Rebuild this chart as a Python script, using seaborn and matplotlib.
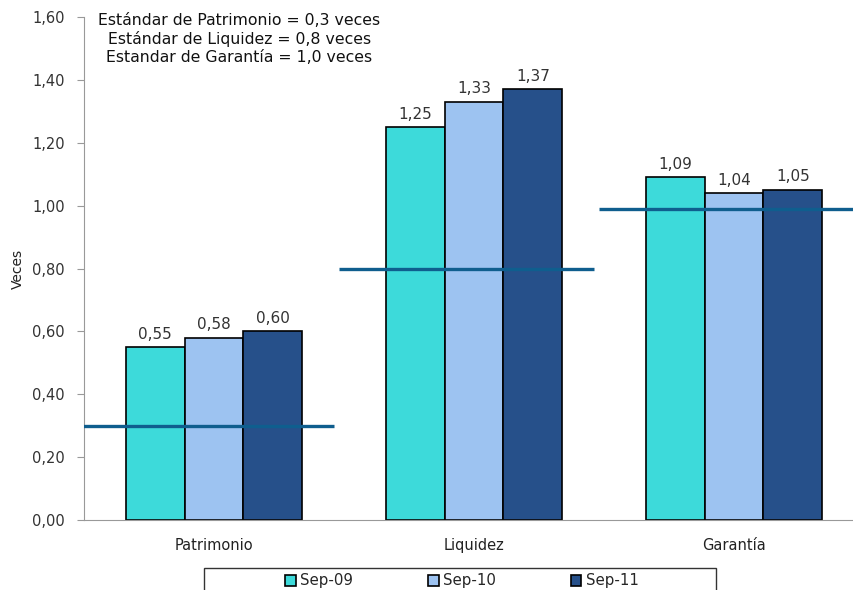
import numpy as np
import pandas as pd
import matplotlib
matplotlib.use("Agg")
import matplotlib.pyplot as plt
import seaborn as sns
from matplotlib.patches import Rectangle
from matplotlib.ticker import FuncFormatter, FixedLocator

# === DATI ===
categorie = ['Patrimonio', 'Liquidez', 'Garantía']
periodi = ['Sep-09', 'Sep-10', 'Sep-11']
sep09 = [0.55, 1.25, 1.09]
sep10 = [0.58, 1.33, 1.04]
sep11 = [0.60, 1.37, 1.05]
standard = [0.30, 0.80, 0.99]

colori = ['#3DDADA', '#9DC3F1', '#26508A']

df = pd.DataFrame({
    'Categoria': categorie * 3,
    'Periodo': [p for p in periodi for _ in categorie],
    'Valore': sep09 + sep10 + sep11,
})

sns.set_style('white')
plt.rcParams['font.family'] = ['DejaVu Sans']
fs = 10.5

fig = plt.figure(figsize=(8.54, 5.9), dpi=100)
# l'asse continua oltre il bordo destro, come nell'originale
ax = fig.add_axes([0.0984, 0.1186, 0.9133, 0.8525])

sns.barplot(data=df, x='Categoria', y='Valore', hue='Periodo',
            palette=colori, width=0.68, edgecolor='black', linewidth=1.2,
            saturation=1, ax=ax, legend=True)

# etichette sopra le barre
for cont in ax.containers:
    ax.bar_label(cont, labels=[f'{v:.2f}'.replace('.', ',') for v in cont.datavalues],
                 padding=4, fontsize=11, color='#333333')

# linee degli standard
for i, s in enumerate(standard):
    ax.hlines(s, i - 0.52, i + 0.46, color='#0F5E8E', linewidth=2.4, zorder=5)

ax.set_xlim(-0.5, 2.5)
ax.set_ylim(0, 1.6)
ax.set_yticks(np.arange(0, 1.61, 0.2))
ax.yaxis.set_major_formatter(FuncFormatter(lambda v, p: f'{v:.2f}'.replace('.', ',')))
ax.xaxis.set_minor_locator(FixedLocator([-0.5, 0.5, 1.5, 2.5]))
ax.tick_params(axis='x', which='major', length=0, labelsize=fs, colors='#222222', pad=13)
ax.tick_params(axis='x', which='minor', length=5, color='#999999', direction='out')
ax.tick_params(axis='y', length=5, color='#999999', direction='out', left=True,
               labelsize=fs, labelcolor='#333333', pad=9)
ax.set_xlabel('')
ax.set_ylabel('Veces', fontsize=10, color='#222222', labelpad=5)

for sp in ['top', 'right']:
    ax.spines[sp].set_visible(False)
for sp in ['left', 'bottom']:
    ax.spines[sp].set_color('#999999')

fig.text(0.28, 0.978, 'Estándar de Patrimonio = 0,3 veces\nEstándar de Liquidez = 0,8 veces\nEstandar de Garantía = 1,0 veces',
         ha='center', va='top', fontsize=11.3, color='#111111', linespacing=1.25)

# legenda con cornice tagliata dal bordo inferiore
fig.patches.append(Rectangle((204 / 854, -0.05), 512 / 854, 22 / 590 + 0.05,
                             transform=fig.transFigure, fill=False,
                             edgecolor='#333333', linewidth=1))
leg = ax.legend(loc='center', bbox_to_anchor=(462 / 854, 1 - 581 / 590),
                bbox_transform=fig.transFigure, ncol=3, frameon=False, fontsize=10.8,
                handlelength=0.7, handleheight=0.7, handletextpad=0.3,
                columnspacing=5.0, borderpad=0)

fig.savefig('out.png', dpi=100)
